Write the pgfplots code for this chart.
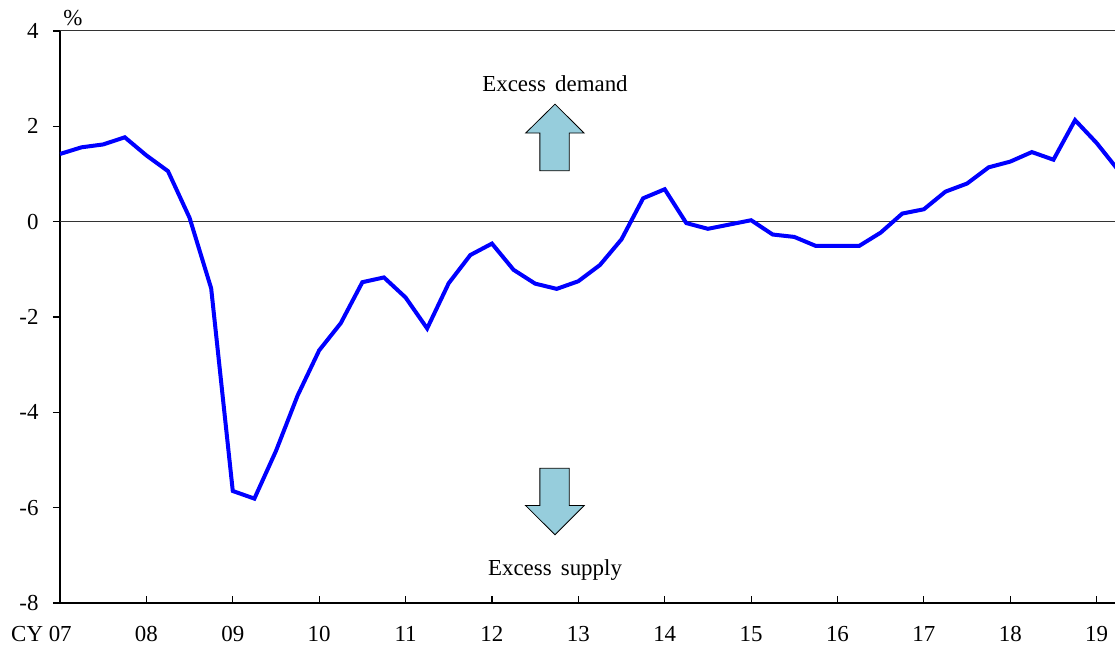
\documentclass[border=0pt]{standalone}
\usepackage{fontspec}
\setmainfont{Liberation Serif}
\usepackage{pgfplots}
\usepackage{pgfplotstable}
\pgfplotsset{compat=1.18}

\definecolor{arrowfill}{RGB}{150,205,220}

% output gap, quarterly, 2007Q1 = 0
\pgfplotstableread{
q gap
0 1.42
1 1.56
2 1.62
3 1.77
4 1.39
5 1.06
6 0.08
7 -1.40
8 -5.65
9 -5.81
10 -4.81
11 -3.65
12 -2.70
13 -2.13
14 -1.27
15 -1.17
16 -1.59
17 -2.24
18 -1.29
19 -0.70
20 -0.46
21 -1.01
22 -1.30
23 -1.41
24 -1.25
25 -0.91
26 -0.37
27 0.49
28 0.68
29 -0.03
30 -0.15
31 -0.06
32 0.03
33 -0.27
34 -0.32
35 -0.51
36 -0.51
37 -0.51
38 -0.23
39 0.17
40 0.26
41 0.63
42 0.80
43 1.14
44 1.26
45 1.46
46 1.30
47 2.13
48 1.65
49 1.08
}\gapdata

\begin{document}
\begin{tikzpicture}
\begin{axis}[
  scale only axis,
  width=527.5bp, height=286bp,
  xmin=0, xmax=48.85,
  ymin=-8, ymax=4,
  axis x line*=bottom,
  axis y line*=left,
  axis line style={-, black, line width=1bp},
  tick align=inside,
  major tick length=3.5bp,
  tick style={black, line width=0.6bp},
  ytick style={xshift=-3.5bp},
  xtick={0,4,...,48},
  xticklabels={\makebox[0pt][r]{CY 07\kern-5.85bp},08,09,10,11,12,13,14,15,16,17,18,19},
  ytick={-8,-6,-4,-2,0,2,4},
  yticklabels={-8,-6,-4,-2,0,2,4},
  tick label style={font=\fontsize{11.5}{13}\selectfont},
  yticklabel style={xshift=-7.2bp},
  xticklabel style={yshift=-8bp},
]
  \draw[black!80, line width=0.6bp] (axis cs:0,0) -- (axis cs:48.85,0);
  \draw[black!80, line width=0.5bp] (rel axis cs:0,1) -- (rel axis cs:1,1);

  \addplot[blue, line width=2bp, no markers, line join=miter] table[x=q, y=gap] {\gapdata};

  % up arrow
  \draw[fill=arrowfill, line width=0.4bp]
    (axis cs:22.92,2.465) -- (axis cs:24.27,1.858) -- (axis cs:23.58,1.858)
    -- (axis cs:23.58,1.07) -- (axis cs:22.22,1.07) -- (axis cs:22.22,1.858)
    -- (axis cs:21.56,1.858) -- cycle;
  % down arrow
  \draw[fill=arrowfill, line width=0.4bp]
    (axis cs:22.92,-6.568) -- (axis cs:24.27,-5.956) -- (axis cs:23.58,-5.956)
    -- (axis cs:23.58,-5.174) -- (axis cs:22.22,-5.174) -- (axis cs:22.22,-5.956)
    -- (axis cs:21.56,-5.956) -- cycle;

  \node[font=\fontsize{11.5}{13}\selectfont] at (axis cs:22.92,2.89) {Excess\hspace{0.15em} demand};
  \node[font=\fontsize{11.5}{13}\selectfont] at (axis cs:22.92,-7.31) {Excess\hspace{0.15em} supply};
\end{axis}
\node[anchor=base west, inner sep=0, font=\fontsize{11.5}{13}\selectfont]
  at ([xshift=1.5bp, yshift=2.5bp]current axis.north west) {\%};
\pgfresetboundingbox
\path[use as bounding box] ([xshift=-30bp, yshift=-21.5bp]current axis.south west)
  rectangle ([yshift=15.5bp]current axis.north east);
\end{tikzpicture}
\end{document}
